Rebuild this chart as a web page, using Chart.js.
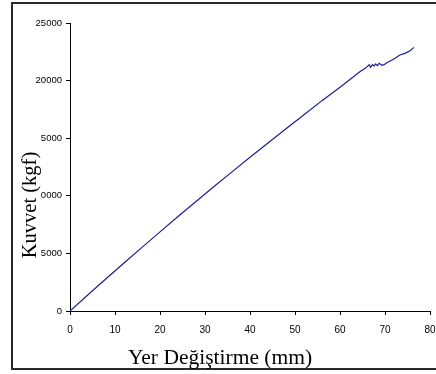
<!DOCTYPE html>
<html>
<head>
<meta charset="utf-8">
<script src="https://cdn.jsdelivr.net/npm/chart.js@4/dist/chart.umd.min.js"></script>
<style>
html,body{margin:0;padding:0;background:#fff;}
#wrap{position:relative;width:436px;height:374px;overflow:hidden;}
#frame{position:absolute;left:11px;top:2px;width:460px;height:364px;border:2px solid #2a2a2a;}
canvas{position:absolute;left:0;top:0;}
</style>
</head>
<body>
<div id="wrap">
<div id="frame"></div>
<canvas id="c" width="436" height="374"></canvas>
</div>
<script>
const displacement = [0, 4, 8, 12, 16, 20, 24, 28, 32, 36, 40, 44, 48, 52, 56, 60, 63.0, 64.4, 65.6, 66.5, 66.8, 67.2, 67.6, 67.9, 68.3, 68.7, 69.3, 69.8, 70.4, 71.9, 73.3, 74.4, 75.6, 76.4];
const force = [0, 1406, 2795, 4170, 5527, 6870, 8196, 9506, 10801, 12079, 13342, 14590, 15820, 17036, 18260, 19418, 20340, 20775, 21065, 21380, 21150, 21380, 21267, 21441, 21296, 21499, 21325, 21380, 21557, 21846, 22222, 22367, 22598, 22888];
const yTickLabels = ["0", "5000", "0000", "5000", "20000", "25000"];
const xTitle = "Yer Değiştirme (mm)";
const yTitle = "Kuvvet (kgf)";

const points = displacement.map((x, i) => ({x: x, y: force[i]}));
const tickFont = '"Liberation Sans", Arial, sans-serif';

const titlePlugin = {
  id: 'titles',
  afterDraw(chart) {
    const ctx = chart.ctx;
    ctx.save();
    ctx.fillStyle = '#000';
    ctx.textAlign = 'center';
    ctx.textBaseline = 'alphabetic';
    ctx.font = '21.5px "Liberation Serif", "Times New Roman", serif';
    ctx.fillText(xTitle, 220, 364);
    ctx.font = '20.5px "Liberation Serif", "Times New Roman", serif';
    ctx.translate(36, 205);
    ctx.rotate(-Math.PI / 2);
    ctx.fillText(yTitle, 0, 0);
    ctx.restore();
  }
};

new Chart(document.getElementById('c'), {
  type: 'scatter',
  data: {
    datasets: [{
      data: points,
      showLine: true,
      borderColor: '#1e1e96',
      borderWidth: 1.2,
      pointRadius: 0,
      fill: false,
      tension: 0
    }]
  },
  options: {
    responsive: false,
    animation: false,
    layout: {padding: {left: 0, top: 23, right: 6, bottom: 0}},
    plugins: {legend: {display: false}, tooltip: {enabled: false}},
    scales: {
      x: {
        type: 'linear',
        min: 0, max: 80,
        grid: {display: true, drawOnChartArea: false, drawTicks: true, tickLength: 4, color: '#000'},
        border: {display: true, color: '#000', width: 1},
        ticks: {stepSize: 10, color: '#000', font: {family: tickFont, size: 10}, padding: 9, maxRotation: 0},
        afterFit(s) { s.height = 63; s.paddingLeft = 0; s.paddingRight = 0; }
      },
      y: {
        type: 'linear',
        min: 0, max: 25000,
        grid: {display: true, drawOnChartArea: false, drawTicks: true, tickLength: 4, color: '#000'},
        border: {display: true, color: '#000', width: 1},
        ticks: {stepSize: 5000, color: '#000', font: {family: tickFont, size: 9.5}, padding: 4,
          callback: (v, i) => yTickLabels[i]},
        afterFit(s) { s.width = 70; s.paddingTop = 0; s.paddingBottom = 0; }
      }
    }
  },
  plugins: [titlePlugin]
});
</script>
</body>
</html>
